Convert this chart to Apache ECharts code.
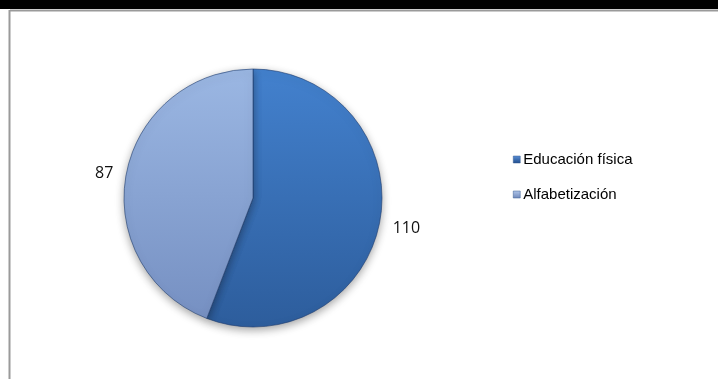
<!DOCTYPE html>
<html>
<head>
<meta charset="utf-8">
<style>
html,body{margin:0;padding:0;background:#fff;}
#chart{width:718px;height:379px;}
</style>
<script src="https://cdn.jsdelivr.net/npm/echarts@6/dist/echarts.min.js"></script>
</head>
<body>
<div id="chart"></div>
<script>
var categories = ['Educación física', 'Alfabetización'];
var values = [110, 87];

var chart = echarts.init(document.getElementById('chart'), null, {renderer: 'canvas'});

function grad(top, bottom) {
  return new echarts.graphic.LinearGradient(0, 0, 0, 1, [
    {offset: 0, color: top},
    {offset: 1, color: bottom}
  ]);
}
var fills = [grad('#4381CE', '#2D5D9C'), grad('#9BB7E3', '#7690C2')];
var legendFills = [grad('#5A8FD6', '#1F4C8C'), grad('#B0C6EA', '#6F88BA')];
var labelShiftY = [5, 0];

var option = {
  animation: false,
  backgroundColor: '#ffffff',
  graphic: [
    {type: 'rect', shape: {x: 0, y: 0, width: 718, height: 9}, style: {fill: '#000'}, silent: true},
    {type: 'line', shape: {x1: 10, y1: 10.5, x2: 718, y2: 10.5}, style: {stroke: '#9a9a9a', lineWidth: 2}, silent: true},
    {type: 'line', shape: {x1: 9.5, y1: 10, x2: 9.5, y2: 379}, style: {stroke: '#9a9a9a', lineWidth: 2}, silent: true}
  ],
  legend: {
    orient: 'vertical',
    left: 513,
    top: 152,
    padding: 0,
    itemWidth: 7,
    itemHeight: 7,
    itemGap: 20,
    icon: 'rect',
    textStyle: {fontFamily: 'Liberation Sans', fontSize: 15, color: '#000', padding: [0, 0, 0, -2]},
    data: categories.map(function (c, i) {
      return {name: c, itemStyle: {color: legendFills[i], borderColor: '#3a5f90', borderWidth: 0.5}};
    })
  },
  series: [{
    type: 'pie',
    center: [253, 198],
    radius: 129,
    startAngle: 90,
    clockwise: true,
    avoidLabelOverlap: false,
    label: {
      show: true,
      position: 'outside',
      formatter: '{c}',
      fontFamily: 'Open Sans',
      fontSize: 16,
      color: '#111'
    },
    labelLine: {show: false, length: 8, length2: 0},
    labelLayout: function (p) {
      return {dy: labelShiftY[p.dataIndex] || 0};
    },
    emphasis: {disabled: true},
    itemStyle: {
      borderColor: 'rgba(30,60,110,0.6)',
      borderWidth: 1,
      shadowBlur: 8,
      shadowOffsetY: 3,
      shadowColor: 'rgba(0,0,0,0.35)'
    },
    data: categories.map(function (c, i) {
      return {name: c, value: values[i], itemStyle: {color: fills[i]}};
    })
  }]
};
chart.setOption(option);
</script>
</body>
</html>
